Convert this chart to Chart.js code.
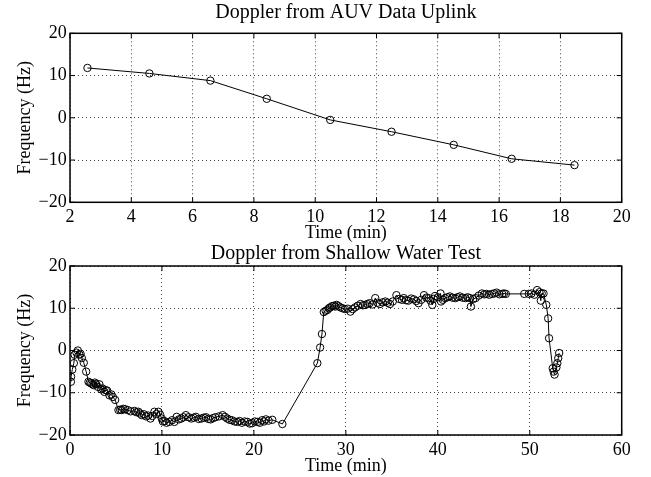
<!DOCTYPE html>
<html><head><meta charset="utf-8">
<script src="https://cdn.jsdelivr.net/npm/chart.js@4/dist/chart.umd.min.js"></script>
<style>
html,body{margin:0;padding:0;background:#fff;width:651px;height:477px;overflow:hidden}
canvas{position:absolute;left:0}
#c1{top:0}
#c2{top:227px}
</style></head><body>
<canvas id="c1" width="651" height="250" style="width:651px;height:250px"></canvas>
<canvas id="c2" width="651" height="250" style="width:651px;height:250px"></canvas>
<script>
// ---- data ----
const topTitle = 'Doppler from AUV Data Uplink';
const bottomTitle = 'Doppler from Shallow Water Test';
const xAxisLabel = 'Time (min)';
const yAxisLabel = 'Frequency (Hz)';

const topTime = [2.57, 4.59, 6.58, 8.42, 10.49, 12.49, 14.52, 16.41, 18.46];
const topFreq = [11.8, 10.5, 8.8, 4.5, -0.5, -3.3, -6.4, -9.7, -11.2];

const bottomTime = [
 0.1,0.12,0.25,0.42,0.5,0.7,0.85,1.03,1.15,1.29,1.5,1.76,2.01,2.15,2.3,2.45,2.59,2.7,2.84,3.03,
 3.2,3.39,3.55,3.75,3.9,4.04,4.29,4.5,4.66,4.91,5.27,5.45,5.63,5.8,6.0,6.29,6.6,7.01,7.2,7.44,
 7.6,7.81,8.05,8.28,8.5,8.75,8.95,9.18,9.4,9.62,9.8,9.98,10.1,10.27,10.5,10.8,
 11.1,11.35,11.6,11.85,12.1,12.35,12.6,12.9,13.2,13.45,13.7,14.0,14.3,14.55,14.8,15.05,15.3,15.55,15.8,16.2,
 16.6,16.85,17.1,17.35,17.6,17.9,18.2,18.45,18.7,19.0,19.3,19.55,19.8,20.1,20.4,20.65,20.9,21.1,21.3,21.6,22.0,23.1,
 26.9,27.2,27.4,27.6,27.8,28.0,28.15,28.3,28.5,28.7,28.85,29.0,29.2,29.4,29.65,29.9,30.2,30.5,30.75,31.0,
 31.3,31.6,31.85,32.1,32.35,32.6,32.9,33.2,33.45,33.7,34.0,34.3,34.55,34.8,35.1,35.5,35.8,36.1,36.3,36.55,
 36.8,37.1,37.4,37.65,37.9,38.2,38.5,38.75,39.0,39.2,39.4,39.55,39.7,40.0,40.3,40.35,40.55,40.8,41.05,41.3,
 41.6,41.9,42.15,42.4,42.7,43.0,43.25,43.5,43.6,43.85,44.1,44.45,44.8,45.05,45.3,45.6,45.9,46.15,46.4,46.7,
 47.0,47.2,47.4,49.4,49.9,50.2,50.5,50.8,51.05,51.2,51.3,51.5,51.8,52.0,52.1,52.5,52.6,52.7,52.9,53.0,53.1,53.2
];
const bottomFreq = [
 -7.4,-6.2,-4.5,-3.0,-1.0,-0.5,0.0,-1.0,-0.8,-1.8,-2.9,-5.0,-7.4,-7.6,-7.8,-8.0,-8.2,-7.6,-7.9,-8.6,
 -8.0,-9.2,-9.0,-9.8,-9.4,-9.5,-10.6,-10.4,-11.0,-11.7,-14.1,-14.0,-14.1,-13.8,-13.9,-14.1,-14.4,-14.3,-14.6,-14.5,
 -14.9,-15.3,-15.1,-15.6,-15.4,-16.1,-15.5,-14.5,-15.0,-14.5,-15.2,-16.1,-16.8,-16.7,-17.1,-16.9,
 -16.5,-16.9,-15.7,-16.3,-16.1,-15.8,-15.3,-15.8,-16.1,-15.9,-15.7,-16.2,-16.1,-15.9,-15.8,-16.2,-16.3,-16.0,-15.8,-15.6,
 -15.3,-15.7,-16.1,-16.4,-16.5,-16.8,-16.9,-16.7,-17.1,-16.8,-16.9,-17.3,-17.2,-16.8,-16.9,-17.1,-16.5,-16.8,-16.3,-16.6,-16.4,-17.4,
 -3.0,0.7,3.9,9.1,9.4,9.6,10.0,10.2,10.5,10.6,10.4,10.8,10.5,10.2,10.0,9.8,9.9,9.2,9.8,10.2,
 10.6,11.0,10.7,10.8,11.0,11.2,10.9,12.4,11.3,11.0,11.4,11.6,11.3,11.0,11.6,13.1,12.2,12.0,12.4,11.9,
 11.8,12.3,12.1,11.7,11.2,12.0,13.1,12.5,12.4,11.8,10.8,12.2,12.9,12.6,13.5,11.6,12.0,12.4,12.6,12.8,
 12.5,12.4,12.6,12.8,12.5,12.4,12.6,12.4,10.4,12.2,12.4,13.0,13.5,13.3,13.4,13.2,13.4,13.5,13.7,13.3,
 13.4,13.5,13.4,13.4,13.4,13.5,13.2,14.3,13.8,11.8,13.5,13.5,10.8,7.6,2.9,-4.2,-5.0,-5.7,-4.0,-3.0,-1.8,-0.6
];

const topXTickValues = [2,4,6,8,10,12,14,16,18,20];
const topXTickLabels = ['2','4','6','8','10','12','14','16','18','20'];
const bottomXTickValues = [0,10,20,30,40,50,60];
const bottomXTickLabels = ['0','10','20','30','40','50','60'];
const yTickValues = [-20,-10,0,10,20];
const yTickLabels = ['\u221220','\u221210','0','10','20'];

// ---- rendering ----
Chart.defaults.font.family = '"Liberation Serif","Times New Roman",serif';
Chart.defaults.font.size = 18;
Chart.defaults.color = '#000';

const framePlugin = {
  id: 'frame',
  afterDraw(chart) {
    const ctx = chart.ctx, a = chart.chartArea, x = chart.scales.x, y = chart.scales.y;
    ctx.save();
    ctx.strokeStyle = '#000';
    ctx.lineWidth = 1;
    const L = 5;
    ctx.beginPath();
    x.ticks.forEach(t => {
      const px = x.getPixelForValue(t.value);
      ctx.moveTo(px, a.bottom); ctx.lineTo(px, a.bottom - L);
      ctx.moveTo(px, a.top); ctx.lineTo(px, a.top + L);
    });
    y.ticks.forEach(t => {
      const py = y.getPixelForValue(t.value);
      ctx.moveTo(a.left, py); ctx.lineTo(a.left + L, py);
      ctx.moveTo(a.right, py); ctx.lineTo(a.right - L, py);
    });
    ctx.stroke();
    ctx.lineWidth = 1.5;
    ctx.strokeRect(a.left, a.top, a.right - a.left, a.bottom - a.top);
    ctx.restore();
  }
};

function makeChart(id, cfg) {
  const pts = cfg.xs.map((v, i) => ({x: v, y: cfg.ys[i]}));
  return new Chart(document.getElementById(id), {
    type: 'scatter',
    data: { datasets: [{
      data: pts, showLine: true, borderColor: '#000', borderWidth: 1,
      pointStyle: 'circle', pointRadius: 3.7, pointBorderWidth: 1,
      pointBorderColor: '#000', pointBackgroundColor: 'rgba(0,0,0,0)', tension: 0
    }]},
    options: {
      responsive: false, animation: false, devicePixelRatio: 1,
      layout: { padding: { left: 0, right: 29.3, top: 0, bottom: 0 } },
      plugins: {
        legend: { display: false }, tooltip: { enabled: false },
        title: { display: true, fullSize: false, text: cfg.title, color: '#000',
          font: { size: 20, weight: 'normal' }, padding: cfg.titlePad }
      },
      scales: {
        x: {
          type: 'linear', position: 'bottom', min: cfg.xmin, max: cfg.xmax,
          afterBuildTicks: s => { s.ticks = cfg.xTickValues.map(v => ({value: v})); },
          afterFit: s => { s.height = cfg.xHeight; },
          ticks: { autoSkip: false, maxRotation: 0, padding: 4.4, color: '#000',
            callback: v => cfg.xTickLabels[cfg.xTickValues.indexOf(v)] },
          grid: { color: 'rgba(0,0,0,0.75)', lineWidth: 1, drawTicks: false },
          border: { display: false, dash: [1, 3] },
          title: { display: true, text: xAxisLabel, color: '#000', font: { size: 18 },
            padding: { top: 0, bottom: cfg.xTitlePad } }
        },
        y: {
          type: 'linear', position: 'left', min: -20, max: 20,
          afterBuildTicks: s => { s.ticks = yTickValues.map(v => ({value: v})); },
          afterFit: s => { s.width = 70; },
          ticks: { padding: 3.3, color: '#000',
            callback: v => yTickLabels[yTickValues.indexOf(v)] },
          grid: { color: 'rgba(0,0,0,0.75)', lineWidth: 1, drawTicks: false },
          border: { display: false, dash: [1, 3] },
          title: { display: true, text: yAxisLabel, color: '#000', font: { size: 18 },
            padding: { top: 14.2, bottom: 0 } }
        }
      }
    },
    plugins: [framePlugin]
  });
}

makeChart('c1', {
  title: topTitle, titlePad: { top: 0.8, bottom: 8.5 },
  xs: topTime, ys: topFreq, xmin: 2, xmax: 20,
  xTickValues: topXTickValues, xTickLabels: topXTickLabels,
  xHeight: 47.7, xTitlePad: 6.2
});
makeChart('c2', {
  title: bottomTitle, titlePad: { top: 15, bottom: 0 },
  xs: bottomTime, ys: bottomFreq, xmin: 0, xmax: 60,
  xTickValues: bottomXTickValues, xTickLabels: bottomXTickLabels,
  xHeight: 42, xTitlePad: 0.2
});
</script>
</body></html>
